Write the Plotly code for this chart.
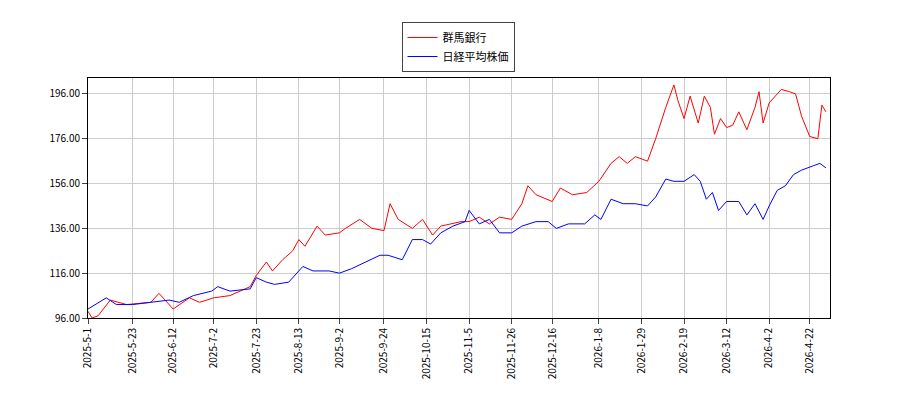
import plotly.graph_objects as go
import pandas as pd

red_dates = ["2025-05-01","2025-05-03","2025-05-06","2025-05-12","2025-05-20","2025-06-01","2025-06-05","2025-06-08","2025-06-12","2025-06-20","2025-06-25","2025-07-02","2025-07-10","2025-07-20","2025-07-23","2025-07-28","2025-07-31","2025-08-05","2025-08-10","2025-08-13","2025-08-16","2025-08-22","2025-08-26","2025-09-02","2025-09-05","2025-09-12","2025-09-18","2025-09-24","2025-09-27","2025-10-01","2025-10-08","2025-10-13","2025-10-18","2025-10-22","2025-11-01","2025-11-05","2025-11-10","2025-11-15","2025-11-20","2025-11-26","2025-12-01","2025-12-04","2025-12-08","2025-12-16","2025-12-20","2025-12-26","2026-01-02","2026-01-08","2026-01-14","2026-01-18","2026-01-22","2026-01-26","2026-01-29","2026-02-01","2026-02-05","2026-02-10","2026-02-14","2026-02-16","2026-02-19","2026-02-22","2026-02-26","2026-03-01","2026-03-04","2026-03-06","2026-03-09","2026-03-12","2026-03-15","2026-03-18","2026-03-22","2026-03-26","2026-03-28","2026-03-30","2026-04-02","2026-04-05","2026-04-08","2026-04-12","2026-04-15","2026-04-18","2026-04-22","2026-04-26","2026-04-28","2026-04-30"]
red_vals = [99,96,97,104,102,103,107,104,100,105,103,105,106,110,115,121,117,122,126,131,128,137,133,134,136,140,136,135,147,140,136,140,133,137,139,139,141,138,141,140,147,155,151,148,154,151,152,157,165,168,165,168,167,166,176,190,200,193,185,195,183,195,190,178,185,181,182,188,180,190,197,183,192,195,198,197,196,186,177,176,191,188]

blue_dates = ["2025-05-01","2025-05-10","2025-05-15","2025-05-23","2025-06-01","2025-06-10","2025-06-15","2025-06-22","2025-07-01","2025-07-04","2025-07-10","2025-07-20","2025-07-23","2025-07-28","2025-08-01","2025-08-08","2025-08-15","2025-08-20","2025-08-28","2025-09-02","2025-09-08","2025-09-15","2025-09-22","2025-09-26","2025-10-03","2025-10-08","2025-10-13","2025-10-17","2025-10-22","2025-10-28","2025-11-03","2025-11-05","2025-11-10","2025-11-15","2025-11-20","2025-11-26","2025-12-01","2025-12-08","2025-12-14","2025-12-18","2025-12-24","2026-01-01","2026-01-06","2026-01-09","2026-01-14","2026-01-20","2026-01-26","2026-02-01","2026-02-05","2026-02-10","2026-02-14","2026-02-19","2026-02-24","2026-02-27","2026-03-02","2026-03-05","2026-03-08","2026-03-12","2026-03-18","2026-03-22","2026-03-26","2026-03-30","2026-04-02","2026-04-06","2026-04-10","2026-04-14","2026-04-18","2026-04-24","2026-04-27","2026-04-30"]
blue_vals = [100,105,102,102,103,104,103,106,108,110,108,109,114,112,111,112,119,117,117,116,118,121,124,124,122,131,131,129,134,137,139,144,138,140,134,134,137,139,139,136,138,138,142,140,149,147,147,146,150,158,157,157,160,157,149,152,144,148,148,142,147,140,146,153,155,160,162,164,165,163]

tick_dates = ["2025-05-01","2025-05-23","2025-06-12","2025-07-02","2025-07-23","2025-08-13","2025-09-02","2025-09-24","2025-10-15","2025-11-05","2025-11-26","2025-12-16","2026-01-08","2026-01-29","2026-02-19","2026-03-12","2026-04-02","2026-04-22"]
tick_text = [f"{d.year}-{d.month}-{d.day}" for d in pd.to_datetime(tick_dates)]
y_ticks = [96, 116, 136, 156, 176, 196]

fig = go.Figure()
fig.add_trace(go.Scatter(x=red_dates, y=red_vals, mode="lines", name="群馬銀行", line=dict(color="red", width=1)))
fig.add_trace(go.Scatter(x=blue_dates, y=blue_vals, mode="lines", name="日経平均株価", line=dict(color="blue", width=1)))
fig.update_layout(
    width=900, height=400, plot_bgcolor="white", paper_bgcolor="white",
    margin=dict(l=80, r=78, t=70, b=90, autoexpand=False),
    font=dict(family="Noto Sans CJK JP, DejaVu Sans", size=11, color="black"),
    legend=dict(x=0.5, y=0.965, xref="container", yref="container", xanchor="center", yanchor="top",
                bordercolor="#444", borderwidth=1, bgcolor="white"),
    showlegend=True,
)
fig.update_xaxes(range=["2025-05-01", "2026-05-02"], tickvals=tick_dates, ticktext=tick_text, tickangle=-90,
                 showgrid=True, gridcolor="#cccccc", showline=True, linecolor="black", mirror=True, ticks="outside", tickfont=dict(size=10))
fig.update_yaxes(range=[96, 203.1], tickvals=y_ticks, ticktext=[f"{v:.2f}" for v in y_ticks],
                 showgrid=True, gridcolor="#cccccc", showline=True, linecolor="black", mirror=True, ticks="outside", tickfont=dict(size=10))
fig.write_html("out.html")
